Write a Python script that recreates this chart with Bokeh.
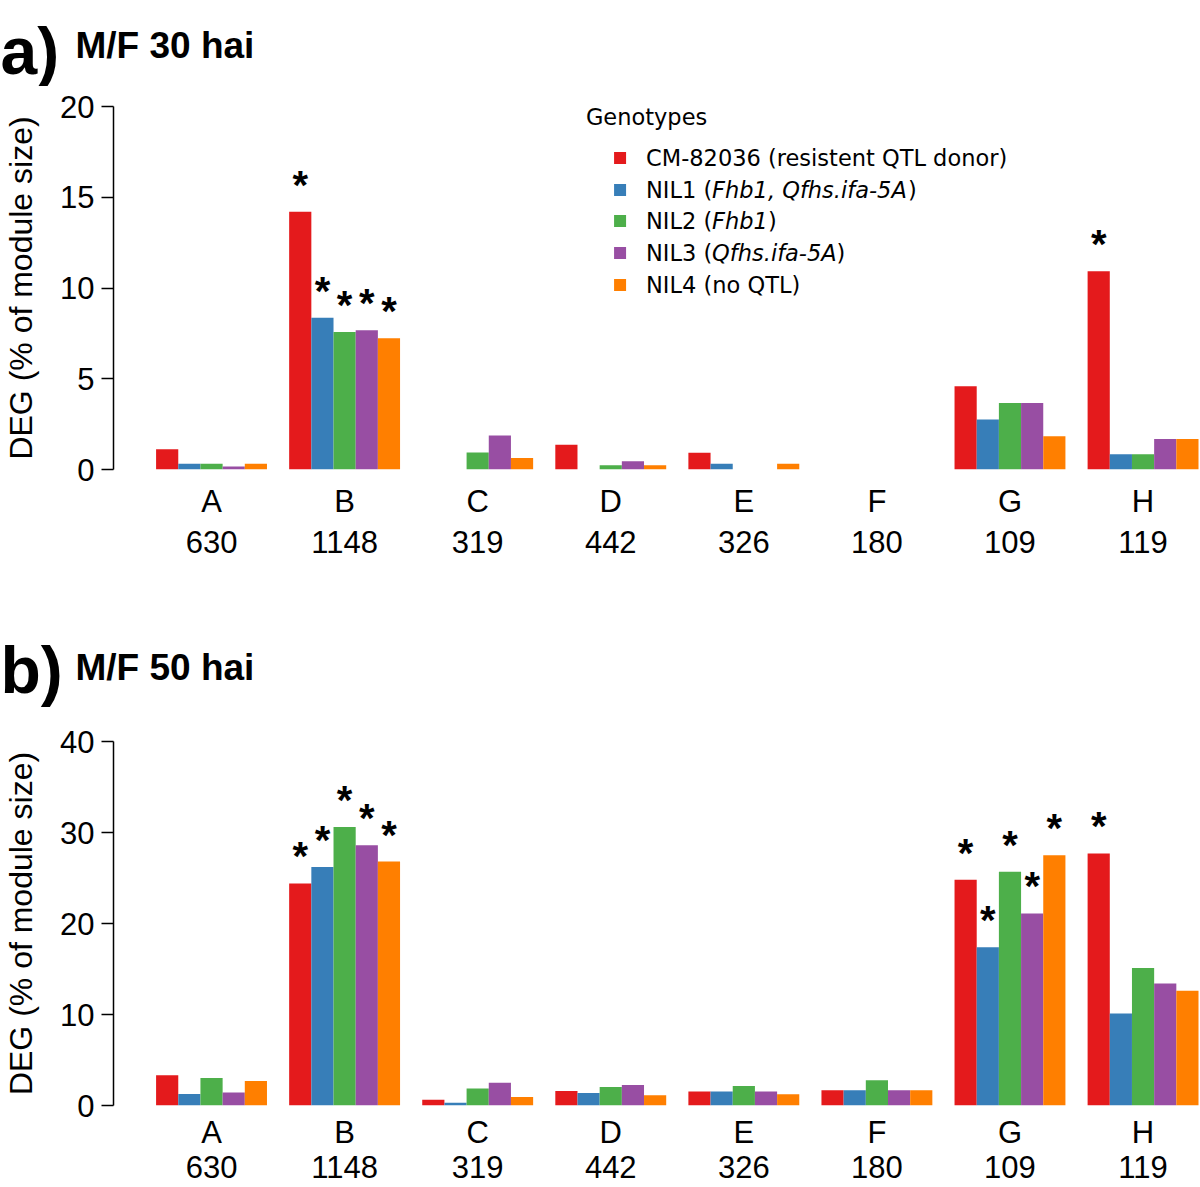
from bokeh.plotting import figure
from bokeh.models import ColumnDataSource, Range1d, LinearAxis, FixedTicker, Label
from bokeh.layouts import column
from bokeh.embed import file_html
from bokeh.resources import INLINE
from bokeh.core.properties import value

# ---------------- data ----------------
modules = ["A", "B", "C", "D", "E", "F", "G", "H"]
module_sizes = ["630", "1148", "319", "442", "326", "180", "109", "119"]
genotypes = ["CM-82036", "NIL1", "NIL2", "NIL3", "NIL4"]
colors = ["#E41A1C", "#377EB8", "#4DAF4A", "#984EA3", "#FF7F00"]

# M/F 30 hai  (DEG, % of module size)
cm_30   = [1.11, 14.20, 0.00, 1.36, 0.92, 0.00, 4.59, 10.92]
nil1_30 = [0.32,  8.36, 0.00, 0.00, 0.31, 0.00, 2.75,  0.84]
nil2_30 = [0.32,  7.58, 0.94, 0.23, 0.00, 0.00, 3.67,  0.84]
nil3_30 = [0.16,  7.67, 1.88, 0.45, 0.00, 0.00, 3.67,  1.68]
nil4_30 = [0.32,  7.23, 0.63, 0.23, 0.31, 0.00, 1.83,  1.68]

# M/F 50 hai
cm_50   = [3.33, 24.4, 0.63, 1.58, 1.53, 1.67, 24.8, 27.7]
nil1_50 = [1.27, 26.2, 0.31, 1.36, 1.53, 1.67, 17.4, 10.1]
nil2_50 = [3.02, 30.6, 1.88, 2.04, 2.15, 2.78, 25.7, 15.1]
nil3_50 = [1.43, 28.6, 2.51, 2.26, 1.53, 1.67, 21.1, 13.4]
nil4_50 = [2.70, 26.8, 0.94, 1.13, 1.23, 1.67, 27.5, 12.6]

# significance flags (asterisks)
star_cm_30   = [0, 1, 0, 0, 0, 0, 0, 1]
star_nil1_30 = [0, 1, 0, 0, 0, 0, 0, 0]
star_nil2_30 = [0, 1, 0, 0, 0, 0, 0, 0]
star_nil3_30 = [0, 1, 0, 0, 0, 0, 0, 0]
star_nil4_30 = [0, 1, 0, 0, 0, 0, 0, 0]

star_cm_50   = [0, 1, 0, 0, 0, 0, 1, 1]
star_nil1_50 = [0, 1, 0, 0, 0, 0, 1, 0]
star_nil2_50 = [0, 1, 0, 0, 0, 0, 1, 0]
star_nil3_50 = [0, 1, 0, 0, 0, 0, 1, 0]
star_nil4_50 = [0, 1, 0, 0, 0, 0, 1, 0]

yticks_30 = [0, 5, 10, 15, 20]
yticks_50 = [0, 10, 20, 30, 40]

AX_FONT = "Liberation Sans"
LEG_FONT = "DejaVu Sans"


def make_header(height, tag, title, tag_base, title_base):
    """A strip holding the panel tag ("a)") and panel title."""
    h = figure(title=None, width=1200, height=height, output_backend="svg",
               toolbar_location=None,
               x_range=Range1d(0, 1200), y_range=Range1d(height, 0),
               x_axis_location=None, y_axis_location=None,
               min_border_left=0, min_border_right=0,
               min_border_top=0, min_border_bottom=0)
    h.frame_align = False
    h.grid.visible = False
    h.outline_line_color = None
    h.add_layout(Label(x=0, y=tag_base, text=tag, text_font=AX_FONT,
                       text_font_style="bold", text_font_size="66px",
                       text_baseline="alphabetic", text_color="black"))
    h.add_layout(Label(x=75, y=title_base, text=title, text_font=AX_FONT,
                       text_font_style="bold", text_font_size="37px",
                       text_baseline="alphabetic", text_color="black"))
    return h


def make_panel(series, stars, yticks, height, b_top, b_bottom, s1, s2):
    p = figure(width=1200, height=height, output_backend="svg",
               toolbar_location=None,
               x_range=Range1d(-0.92, 48.09),
               y_range=Range1d(yticks[0], yticks[-1]),
               x_axis_location=None, y_axis_location=None,
               min_border_left=112, min_border_right=0,
               min_border_top=b_top, min_border_bottom=b_bottom)
    p.grid.visible = False
    p.outline_line_color = None
    p.background_fill_color = "white"
    p.border_fill_color = "white"

    xs, tops, cols = [], [], []
    sx, sy = [], []
    for i, vals in enumerate(series):
        for g, v in enumerate(vals):
            x = g * 6 + 1.5 + i
            xs.append(x)
            tops.append(v)
            cols.append(colors[i])
            if stars[i][g]:
                sx.append(x)
                sy.append(v)
    src = ColumnDataSource(dict(x=xs, top=tops, color=cols))
    p.vbar(x="x", top="top", bottom=0, width=1, fill_color="color",
           line_color=None, source=src)

    ssrc = ColumnDataSource(dict(x=sx, y=sy, t=["*"] * len(sx)))
    p.text(x="x", y="y", text="t", source=ssrc, text_font=value(AX_FONT),
           text_font_size="40px", text_font_style="bold", text_align="center",
           text_baseline="alphabetic", y_offset=-27, text_color="black")

    # y axis (R style)
    yax = LinearAxis(ticker=FixedTicker(ticks=yticks),
                     axis_label="DEG (% of module size)")
    yax.axis_line_width = 1.5
    yax.axis_line_color = "black"
    yax.major_tick_line_width = 1.5
    yax.major_tick_line_color = "black"
    yax.major_tick_out = 12
    yax.major_tick_in = 0
    yax.minor_tick_out = 0
    yax.minor_tick_in = 0
    yax.major_label_text_font = AX_FONT
    yax.major_label_text_font_size = "31px"
    yax.major_label_text_color = "black"
    yax.major_label_standoff = 7
    yax.axis_label_text_font = AX_FONT
    yax.axis_label_text_font_size = "32px"
    yax.axis_label_text_font_style = "normal"
    yax.axis_label_text_color = "black"
    yax.axis_label_standoff = 18
    p.add_layout(yax, "left")

    centers = [g * 6 + 3.5 for g in range(len(modules))]
    for labels, sd in ((modules, s1), (module_sizes, s2)):
        ax = LinearAxis(ticker=FixedTicker(ticks=centers),
                        major_label_overrides={c: l for c, l in zip(centers, labels)})
        ax.axis_line_color = None
        ax.major_tick_line_color = None
        ax.minor_tick_line_color = None
        ax.major_tick_out = 0
        ax.major_tick_in = 0
        ax.minor_tick_out = 0
        ax.minor_tick_in = 0
        ax.major_label_text_font = AX_FONT
        ax.major_label_text_font_size = "31px"
        ax.major_label_text_color = "black"
        ax.major_label_standoff = sd
        p.add_layout(ax, "below")
    return p


ha = make_header(86, "a)", "M/F 30 hai", 50, 45)
pa = make_panel([cm_30, nil1_30, nil2_30, nil3_30, nil4_30],
                [star_cm_30, star_nil1_30, star_nil2_30, star_nil3_30, star_nil4_30],
                yticks_30, 512, 20, 129, 14, 9)

# legend (panel a)
row_y = [17.16, 15.40, 13.69, 11.93, 10.17]
pa.rect(x=[21.92] * 5, y=row_y, width=12, height=12, width_units="screen",
        height_units="screen", fill_color=colors, line_color=None)
pa.add_layout(Label(x=20.38, y=19.42, text="Genotypes", text_font=LEG_FONT,
                    text_font_size="22.5px", text_baseline="middle",
                    text_color="black"))
legend_rows = [
    [("CM-82036 (resistent QTL donor)", 23.09, "normal")],
    [("NIL1 (", 23.09, "normal"), ("Fhb1, Qfhs.ifa-5A", 26.07, "italic"), (")", 34.90, "normal")],
    [("NIL2 (", 23.09, "normal"), ("Fhb1", 26.07, "italic"), (")", 28.59, "normal")],
    [("NIL3 (", 23.09, "normal"), ("Qfhs.ifa-5A", 26.07, "italic"), (")", 31.68, "normal")],
    [("NIL4 (no QTL)", 23.09, "normal")],
]
for yv, segs in zip(row_y, legend_rows):
    for txt, xv, style in segs:
        pa.add_layout(Label(x=xv, y=yv, text=txt, text_font=LEG_FONT,
                            text_font_style=style, text_font_size="22.5px",
                            text_baseline="middle", text_color="black"))

hb = make_header(112, "b)", "M/F 50 hai", 71, 69)
pb = make_panel([cm_50, nil1_50, nil2_50, nil3_50, nil4_50],
                [star_cm_50, star_nil1_50, star_nil2_50, star_nil3_50, star_nil4_50],
                yticks_50, 477, 31, 82, 9, 3)

layout = column(ha, pa, hb, pb)
open("out.html", "w").write(file_html(layout, INLINE))
